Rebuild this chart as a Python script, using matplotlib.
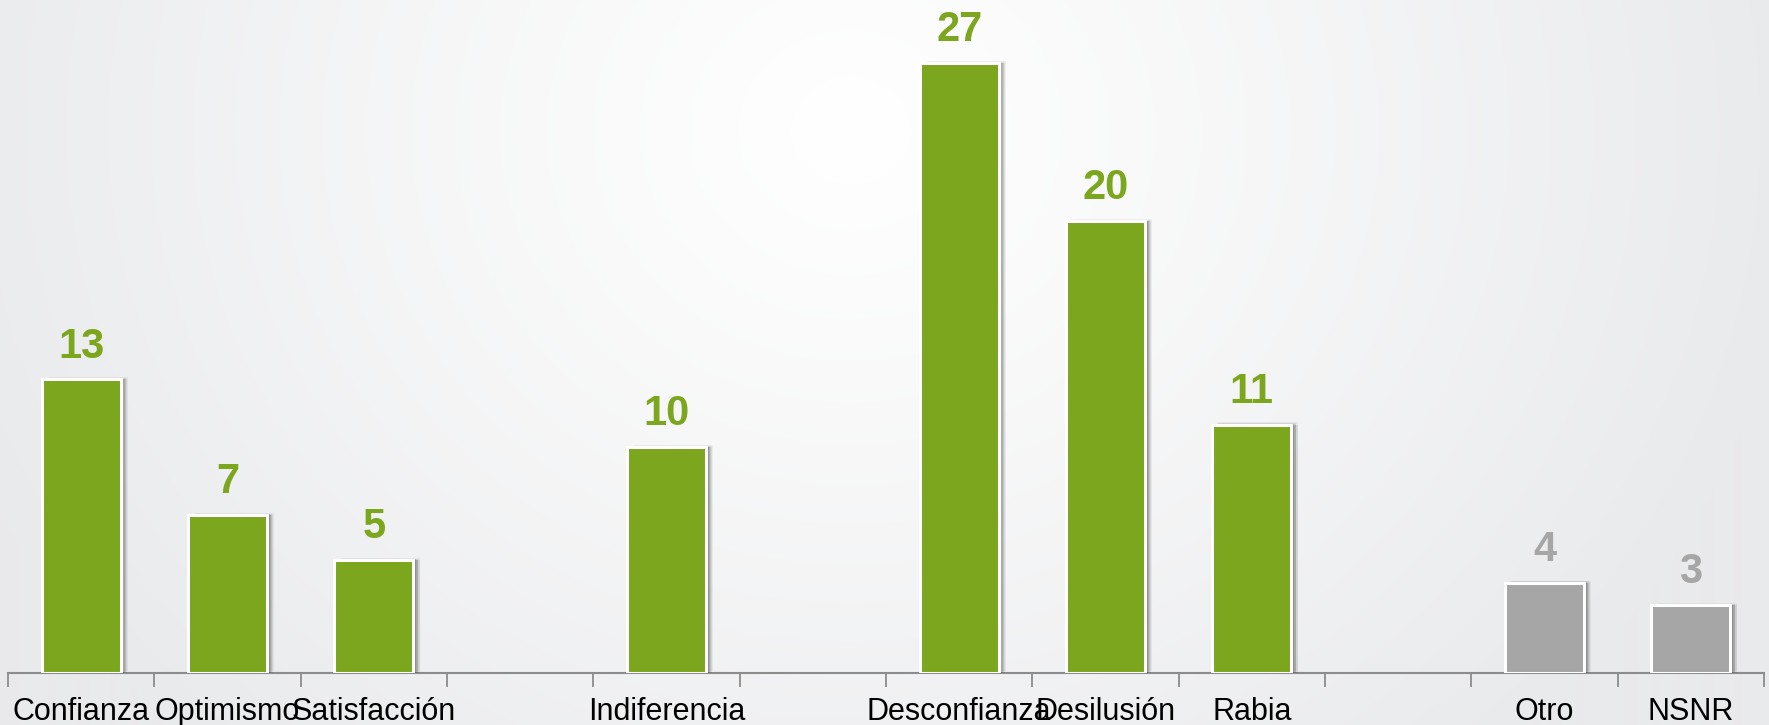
import numpy as np
import matplotlib
matplotlib.use('Agg')
import matplotlib.pyplot as plt
import matplotlib.patheffects as pe

# Datos (los huecos vacios del eje van con None)
categories = ['Confianza', 'Optimismo', 'Satisfacción', '', 'Indiferencia', '',
              'Desconfianza', 'Desilusión', 'Rabia', '', 'Otro', 'NSNR']
values = [13, 7, 5, None, 10, None, 27, 20, 11, None, 4, 3]
groups = ['pos', 'pos', 'pos', None, 'pos', None, 'pos', 'pos', 'pos', None, 'otro', 'otro']

GREEN = '#7BA61E'
GRAY = '#A6A6A6'
colors = {'pos': GREEN, 'otro': GRAY}

plt.rcParams['font.family'] = ['Liberation Sans', 'DejaVu Sans']

fig = plt.figure(figsize=(17.69, 7.25), dpi=100)

# fondo con degradado radial
bg = fig.add_axes([0, 0, 1, 1])
h, w = 725, 1769
yy, xx = np.mgrid[0:h, 0:w]
cx, cy = 850, 130
r = np.sqrt(((xx - cx) / 950.0) ** 2 + ((yy - cy) / 850.0) ** 2)
t = np.clip(r, 0, 1) ** 1.1
c0 = np.array([1.0, 1.0, 1.0])
c1 = np.array([0xE9, 0xEA, 0xEC]) / 255.0
img = c0[None, None, :] * (1 - t[..., None]) + c1[None, None, :] * t[..., None]
bg.imshow(img, aspect='auto', extent=[0, 1, 0, 1])
bg.axis('off')

ax = fig.add_axes([8 / 1769, 52 / 725, 1756 / 1769, 673 / 725])
ax.patch.set_visible(False)

n = len(categories)
x = np.arange(n)
# sombra difusa a la derecha y un poco arriba
offs = [(5.0, 1.5, 0.05), (4.5, 0.0, 0.07), (3.5, 1.0, 0.09), (3.0, 0.0, 0.12),
        (2.0, 0.5, 0.15), (1.2, 0.0, 0.15)]
shadow = [pe.SimplePatchShadow(offset=(ox, oy), shadow_rgbFace='k', alpha=a)
          for ox, oy, a in offs] + [pe.Normal()]

for xi, v, g in zip(x, values, groups):
    if v is None:
        continue
    b = ax.bar(xi, v, width=0.54, color=colors[g], edgecolor='white', linewidth=2.2, zorder=3)
    b[0].set_path_effects(shadow)
    ax.text(xi, v + 0.97, str(v), ha='center', va='baseline', fontsize=30,
            fontweight='bold', color=colors[g], zorder=4)

ax.set_xlim(-0.5, n - 0.5)
ax.set_ylim(0, 29.8)

for s in ['top', 'right', 'left']:
    ax.spines[s].set_visible(False)
ax.spines['bottom'].set_color('#8C8C8C')
ax.spines['bottom'].set_linewidth(1.5)
ax.set_yticks([])

ax.set_xticks(np.arange(n + 1) - 0.5)
ax.set_xticklabels([])
ax.tick_params(axis='x', which='major', length=10, width=1.3, color='#8C8C8C')
ax.set_xticks(x, minor=True)
ax.set_xticklabels(categories, minor=True, fontsize=22, color='black')
ax.tick_params(axis='x', which='minor', length=0, pad=17)

fig.savefig('out.png', dpi=100)
